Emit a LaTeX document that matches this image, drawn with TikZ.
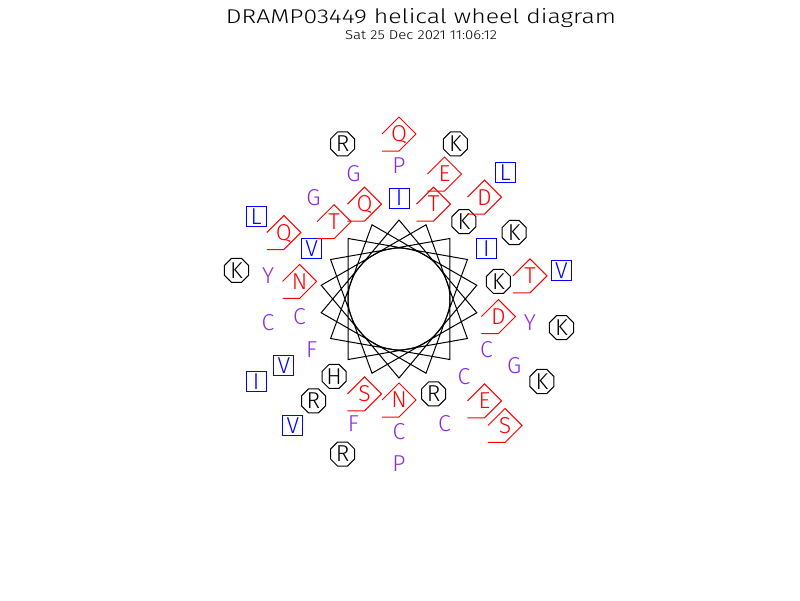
\documentclass[tikz,border=0pt]{standalone}
\usepackage{fontspec}
\newfontfamily\labfont{Fira Sans Light}
\usetikzlibrary{shapes.geometric}
\definecolor{resblue}{RGB}{0,0,255}
\definecolor{resred}{RGB}{255,0,0}
\definecolor{respurple}{RGB}{138,43,226}
\newcommand\resS[4]{\node[sq] (#1) at ([shift={(#2:#3)}]C) {#4};}
\newcommand\resO[4]{\node[oct] (#1) at ([shift={(#2:#3)}]C) {#4};}
\newcommand\resP[4]{\node[pl] (#1) at ([shift={(#2:#3)}]C) {#4};}
\newcommand\resD[4]{\node[dia] (#1) at ([shift={(#2:#3)}]C) {#4};
  \draw[diaframe] ([shift={(-17,0)}]#1.center) -- ++(17,-17) -- ++(17,17) -- ++(-17,17) -- ++(-17,0);}
\begin{document}
\begin{tikzpicture}[x=1pt,y=-1pt,
  lab/.style={font=\labfont\fontsize{23}{23}\selectfont, inner sep=0pt, text height=15.8pt, text depth=0pt},
  sq/.style={lab, draw=resblue, text=resblue, line width=1pt, minimum size=20pt},
  oct/.style={lab, draw=black, text=black, regular polygon, regular polygon sides=8, minimum size=26pt, line width=1pt},
  dia/.style={lab, text=resred},
  diaframe/.style={draw=resred, line width=1pt},
  pl/.style={lab, text=respurple},
  wheel/.style={line width=1pt, draw=black},
  ttl/.style={font=\labfont, inner sep=0pt, anchor=base}]
\fill[white] (0,0) rectangle (800,600);
\useasboundingbox (0,0) rectangle (800,600);
\node[ttl] (title) at (421,23) {\resizebox{390pt}{15pt}{DRAMP03449 helical wheel diagram}};
\node[ttl] (date) at (421,39) {\resizebox{152pt}{9pt}{Sat 25 Dec 2021 11:06:12}};
\coordinate (C) at (399,299);
\draw[wheel] (C) circle[radius=51];
\draw[wheel] ([shift={(-90:79)}]C) \foreach \i in {1,...,17}{ -- ([shift={({100*\i-90}:79)}]C) } -- cycle;
% ring 1
\resS{r1}{-90}{101}{I}
\resD{r2}{10}{101}{D}
\resD{r3}{110}{101}{S}
\resS{r4}{210}{101}{V}
\resO{r5}{-50}{101}{K}
\resP{r6}{50}{101}{C}
\resP{r7}{150}{101}{F}
\resD{r8}{250}{101}{Q}
\resO{r9}{-10}{101}{K}
\resD{r10}{90}{101}{N}
\resD{r11}{190}{101}{N}
\resD{r12}{-70}{101}{T}
\resP{r13}{30}{101}{C}
\resO{r14}{130}{101}{H}
\resD{r15}{230}{101}{T}
\resS{r16}{-30}{101}{I}
\resO{r17}{70}{101}{R}
\resP{r18}{170}{101}{C}
% ring 2
\resP{r19}{-90}{133}{P}
\resP{r20}{10}{133}{Y}
\resP{r21}{110}{133}{F}
\resD{r22}{210}{133}{Q}
\resD{r23}{-50}{133}{D}
\resD{r24}{50}{133}{E}
\resS{r25}{150}{133}{V}
\resP{r26}{250}{133}{G}
\resD{r27}{-10}{133}{T}
\resP{r28}{90}{133}{C}
\resP{r29}{190}{133}{Y}
\resD{r30}{-70}{133}{E}
\resP{r31}{30}{133}{G}
\resO{r32}{130}{133}{R}
\resP{r33}{230}{133}{G}
\resO{r34}{-30}{133}{K}
\resP{r35}{70}{133}{C}
\resP{r36}{170}{133}{C}
% ring 3
\resD{r37}{-90}{165}{Q}
\resO{r38}{10}{165}{K}
\resO{r39}{110}{165}{R}
\resS{r40}{210}{165}{L}
\resS{r41}{-50}{165}{L}
\resD{r42}{50}{165}{S}
\resS{r43}{150}{165}{I}
\resO{r44}{250}{165}{R}
\resS{r45}{-10}{165}{V}
\resP{r46}{90}{165}{P}
\resO{r47}{190}{165}{K}
\resO{r48}{-70}{165}{K}
\resO{r49}{30}{165}{K}
\resS{r50}{130}{165}{V}
\end{tikzpicture}
\end{document}
